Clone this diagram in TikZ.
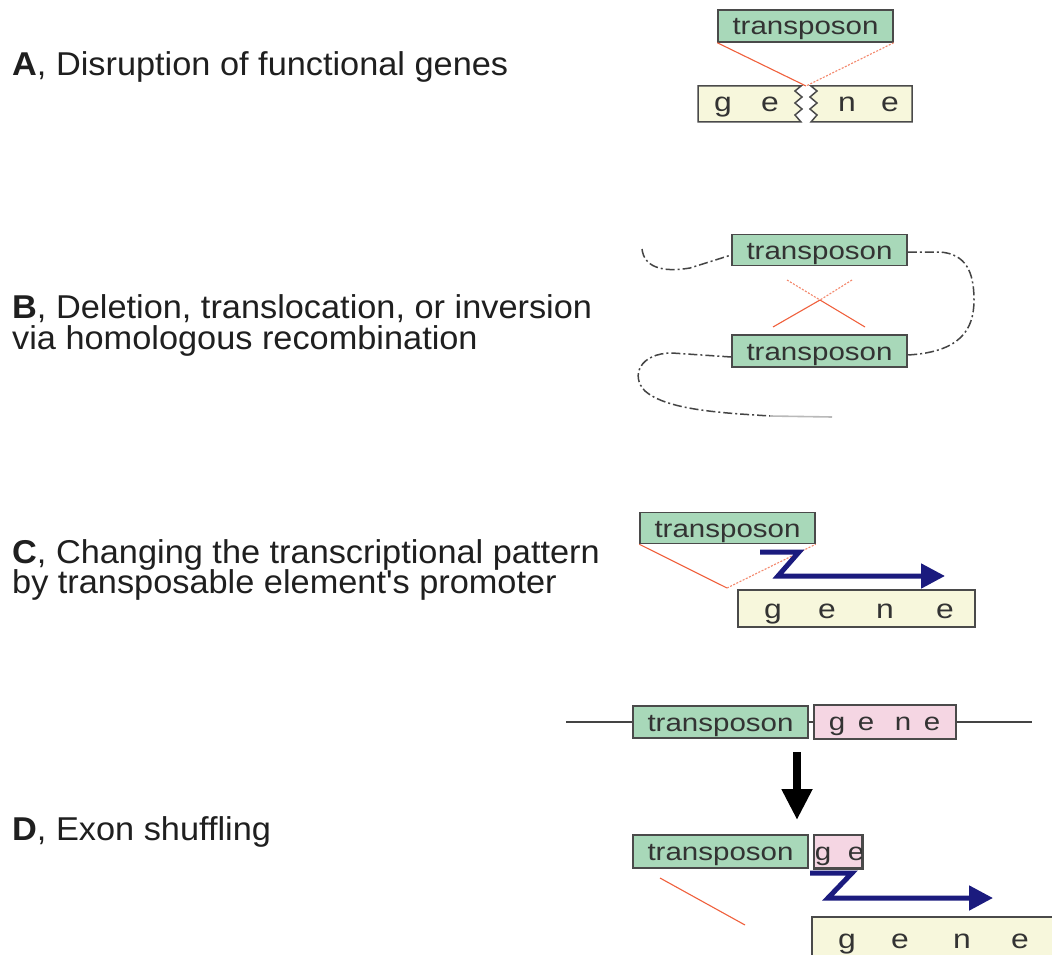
\documentclass[tikz,border=0pt]{standalone}
\usepackage{fontspec}
\setmainfont{Liberation Sans}
\newfontfamily\labelfont[FakeStretch=1.04]{Liberation Sans}
\newfontfamily\boxfont[FakeStretch=1.18]{Liberation Sans}
\usetikzlibrary{arrows.meta,calc}

\definecolor{tgreen}{HTML}{A8D8B9}
\definecolor{gyellow}{HTML}{F7F7DC}
\definecolor{gpink}{HTML}{F5D6E3}
\definecolor{edge}{HTML}{4A4A4A}
\definecolor{boxtext}{HTML}{333333}
\definecolor{redline}{HTML}{F0603C}
\definecolor{navy}{HTML}{1B1B7E}
\definecolor{dnagrey}{HTML}{444444}

\begin{document}
\begin{tikzpicture}[x=1pt,y=-1pt,
  lbl/.style={anchor=base west,inner sep=0pt,text=black!88,
    font=\labelfont\fontsize{33}{33}\selectfont},
  tbox/.style={draw=edge,line width=1.5pt,fill=tgreen,minimum width=175pt,
    minimum height=32pt,inner sep=0pt,text=boxtext,
    text height=18pt,text depth=0pt,
    font=\boxfont\fontsize{25}{25}\selectfont},
  gbox/.style={draw=edge,line width=1.5pt,fill=gyellow,inner sep=0pt},
  pbox/.style={draw=edge,line width=1.5pt,fill=gpink,inner sep=0pt},
  letter/.style={anchor=base,inner sep=0pt,text=boxtext,
    font=\boxfont\fontsize{27}{27}\selectfont},
  smallletter/.style={letter,font=\boxfont\fontsize{25}{25}\selectfont},
  redl/.style={draw=redline,line width=1.1pt},
  redd/.style={draw=redline!75,line width=1.1pt,dash pattern=on 2pt off 1.5pt},
  dna/.style={draw=dnagrey,line width=1.5pt,dash pattern=on 9pt off 3pt on 2pt off 3pt},
  wire/.style={draw=dnagrey,line width=1.4pt},
  promoter/.style={draw=navy,line width=5pt,miter limit=10,
    -{Triangle[length=24pt,width=24pt]}},
  bigarrow/.style={draw=black,line width=8pt,
    -{Triangle[length=31pt,width=29pt]}}
]
\useasboundingbox (0,0) rectangle (1052,955);
\fill[white] (0,0) rectangle (1052,955);
\clip (0,0) rectangle (1052,955);

% ---------- A: disruption of a functional gene ----------
\node[lbl] (lblA) at (12,76) {\textbf{A}, Disruption of functional genes};
\node[tbox] (tA) at (805.5,26) {transposon};
\coordinate (nick) at (806,86);
% the two halves of the broken gene
\draw[gbox] (698,86) -- (801,86) -- (795,91) -- (802,97) -- (795,103)
  -- (802,109) -- (795,115) -- (801,122) -- (698,122) -- cycle;
\draw[gbox] (912,86) -- (811,86) -- (817,91) -- (810,97) -- (817,103)
  -- (810,109) -- (817,115) -- (811,122) -- (912,122) -- cycle;
\node[letter] (gA1) at (723,112) {g};
\node[letter] (gA2) at (770,112) {e};
\node[letter] (gA3) at (847,112) {n};
\node[letter] (gA4) at (890,112) {e};
\draw[redl] (tA.south west) -- (nick);
\draw[redd] (tA.south east) -- (nick);

% ---------- B: homologous recombination ----------
\node[lbl] (lblB1) at (12,318) {\textbf{B}, Deletion, translocation, or inversion};
\node[lbl] (lblB2) at (12,349) {via homologous recombination};
\node[tbox,minimum height=31pt] (tB1) at (819.5,250) {transposon};
\node[tbox] (tB2) at (819.5,351) {transposon};
\coordinate (bStart) at (642,249);
\coordinate (bEnd) at (770,416);
\coordinate (bTail) at (832,417);
\draw[dna] (bStart) .. controls (644,266) and (660,273) .. (690,268)
  -- ($(tB1.west)+(0,5)$);
\draw[dna] ($(tB1.east)+(0,2)$) -- (940,252)
  .. controls (966,254) and (974,272) .. (974,300)
  .. controls (974,330) and (960,352) .. ($(tB2.east)+(0,4)$);
\draw[dna] ($(tB2.west)+(0,6)$) -- (672,353)
  .. controls (640,353) and (630,376) .. (645,391)
  .. controls (662,406) and (700,411) .. (740,414) -- (bEnd);
\draw[gray!55,line width=1.6pt] (bEnd) -- (bTail);
% crossing-over between the two copies
\coordinate (xa1) at (787,280);
\coordinate (xb1) at (865,327);
\coordinate (xa2) at (852,280);
\coordinate (xb2) at (773,327);
\coordinate (xc) at (820,300);
\draw[redd] (xa1) -- (xc);
\draw[redl] (xc) -- (xb1);
\draw[redd] (xa2) -- (xc);
\draw[redl] (xc) -- (xb2);

% ---------- C: promoter of the element drives the gene ----------
\node[lbl] (lblC1) at (12,563) {\textbf{C}, Changing the transcriptional pattern};
\node[lbl] (lblC2) at (12,593) {by transposable element's promoter};
\node[tbox,minimum height=31pt] (tC) at (727.5,528) {transposon};
\coordinate (vC) at (727,588);
\draw[redl] (tC.south west) -- (vC);
\draw[redd] (vC) -- (tC.south east);
\node[gbox,minimum width=237pt,minimum height=37pt] (gC) at (856.5,608.5) {};
\node[letter] (gC1) at (773,618) {g};
\node[letter] (gC2) at (827,618) {e};
\node[letter] (gC3) at (885,618) {n};
\node[letter] (gC4) at (945,618) {e};
\coordinate (pC0) at (760,552);
\coordinate (pC1) at (799,552);
\coordinate (pC2) at (778,576);
\coordinate (pC3) at (945,576);
\draw[promoter] (pC0) -- (pC1) -- (pC2) -- (pC3);

% ---------- D: exon shuffling ----------
\node[lbl] (lblD) at (12,840) {\textbf{D}, Exon shuffling};
\coordinate (dL) at (566,722);
\coordinate (dR) at (1032,722);
\node[tbox] (tD1) at (720.5,722) {transposon};
\node[pbox,minimum width=142pt,minimum height=34pt] (gD1) at (885,722) {};
\draw[wire] (dL) -- (tD1.west);
\draw[wire] (tD1.east) -- (gD1.west);
\draw[wire] (gD1.east) -- (dR);
\node[smallletter] (pD1) at (837,730) {g};
\node[smallletter] (pD2) at (866,730) {e};
\node[smallletter] (pD3) at (903,730) {n};
\node[smallletter] (pD4) at (932,730) {e};
\coordinate (aTop) at (797,752);
\coordinate (aBot) at (797,820);
\draw[bigarrow] (aTop) -- (aBot);
\node[tbox,minimum height=33pt] (tD2) at (720.5,851.5) {transposon};
\node[pbox,minimum width=48pt,minimum height=33pt] (gD2) at (838,851.5) {};
\begin{scope}
  \clip (gD2.north west) rectangle (gD2.south east);
  \node[smallletter] (pE1) at (823,860) {g};
  \node[smallletter] (pE2) at (856,860) {e};
\end{scope}
\draw[draw=edge,line width=1.5pt] (gD2.north west) rectangle (gD2.south east);
\coordinate (rD1) at (660,878);
\coordinate (rD2) at (745,925);
\draw[redl] (rD1) -- (rD2);
\coordinate (pD0) at (810,873);
\coordinate (pDa) at (852,873);
\coordinate (pDb) at (828,898);
\coordinate (pDc) at (993,898);
\draw[promoter] (pD0) -- (pDa) -- (pDb) -- (pDc);
\node[gbox,minimum width=250pt,minimum height=44pt] (gD3) at (937,939) {};
\node[letter] (gE1) at (847,948) {g};
\node[letter] (gE2) at (900,948) {e};
\node[letter] (gE3) at (962,948) {n};
\node[letter] (gE4) at (1020,948) {e};
\end{tikzpicture}
\end{document}
